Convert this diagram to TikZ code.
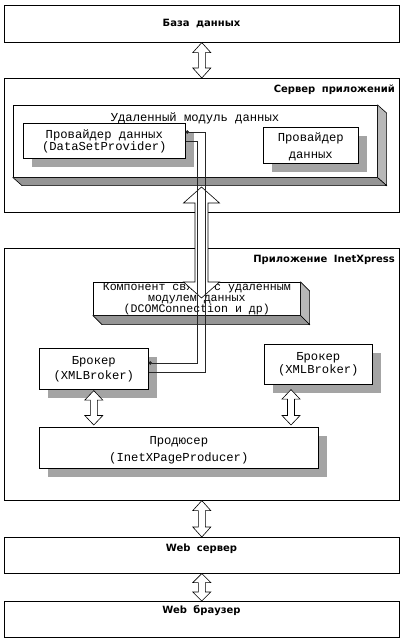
\documentclass[tikz,border=0pt]{standalone}
\usepackage{fontspec}
\newfontfamily\monof{Liberation Mono}
\newfontfamily\titlef{DejaVu Sans}
\usetikzlibrary{calc,shadows,arrows.meta}
\definecolor{shadowc}{HTML}{A4A4A4}
\definecolor{sidec}{HTML}{B8B8B8}
\definecolor{botc}{HTML}{959595}
\newcommand\hollowarrow[5]{%
  \draw[harrow] let \p1=#1, \p2=#2 in
  (\x1,\y1) -- (\x1+#3pt,\y1-#5pt) -- (\x1+#4pt,\y1-#5pt) -- (\x1+#4pt,\y2+#5pt)
  -- (\x1+#3pt,\y2+#5pt) -- (\x1,\y2) -- (\x1-#3pt,\y2+#5pt) -- (\x1-#4pt,\y2+#5pt)
  -- (\x1-#4pt,\y1-#5pt) -- (\x1-#3pt,\y1-#5pt) -- cycle;}
\newcommand\threed[3]{%
  \filldraw[fill=sidec, line width=0.6pt] (#1.north east) -- ++(#2,#3) -- ($(#1.south east)+(#2,#3)$) -- (#1.south east) -- cycle;
  \filldraw[fill=botc, line width=0.6pt] (#1.south west) -- ++(#2,#3) -- ($(#1.south east)+(#2,#3)$) -- (#1.south east) -- cycle;}
\begin{document}
\begin{tikzpicture}[x=1pt,y=-1pt,
  box/.style={draw=black, fill=white, anchor=north west, inner sep=0pt, line width=0.6pt},
  shad/.style={drop shadow={shadow xshift=9pt, shadow yshift=-9pt, fill=shadowc, opacity=1}},
  mono/.style={font=\monof\fontsize{12.2}{#1}\selectfont, align=center, text=black},
  title/.style={font=\titlef\bfseries\fontsize{10}{12}\selectfont, inner sep=0pt},
  wire/.style={draw=black!85, line width=0.6pt},
  harrow/.style={draw=black, fill=white, line width=0.6pt}]
\useasboundingbox (0,0) rectangle (404,638);

% database
\node[box, minimum width=395pt, minimum height=37pt] (db) at (4,5) {};
\node[title] (dbt) at (201.5,24) {База\hspace{3pt} данных};

% application server
\node[box, minimum width=395pt, minimum height=134pt] (srv) at (4,78) {};
\node[title, anchor=east] (srvt) at (395,90) {Сервер\hspace{3pt} приложений};
\hollowarrow{(db.south)}{(srv.north)}{9}{3.5}{10}

\node[box, minimum width=364pt, minimum height=72pt] (rdm) at (13,105) {};
\threed{rdm}{9}{8}
\node[mono=14, inner sep=0pt] (rdmt) at (195,118) {Удаленный модуль данных};
\node[box, shad, mono=12, minimum width=162pt, minimum height=35pt] (prov1) at (23,123) {\rule{0pt}{10pt}Провайдер данных\\(DataSetProvider)};
\node[box, shad, mono=17, minimum width=95pt, minimum height=36pt] (prov2) at (263,127) {\rule{0pt}{12pt}Провайдер\\данных};

% InetXpress application
\node[box, minimum width=395pt, minimum height=252pt] (app) at (4,248) {};
\node[title, anchor=east] (appt) at (395,260) {Приложение\hspace{3pt} InetXpress};

\node[box, font=\monof\fontsize{11.6}{11}\selectfont, align=center, minimum width=207pt, minimum height=33pt] (comp) at (93,282) {Компонент связи с удаленным\\модулем данных\\(DCOMConnection и др)};
\threed{comp}{9}{9}

\coordinate (bigtop) at (201.5,187);
\coordinate (bigbot) at (201.5,298);
\hollowarrow{(bigtop)}{(bigbot)}{18}{6.5}{16}

\node[box, shad, mono=15, minimum width=109pt, minimum height=41pt] (brk1) at (39,348) {Брокер\\(XMLBroker)};
\node[box, shad, mono=13, minimum width=108pt, minimum height=40pt] (brk2) at (264,344) {Брокер\\(XMLBroker)};
\node[box, shad, mono=17, minimum width=279pt, minimum height=41pt] (prod) at (39,427) {\rule{0pt}{13pt}Продюсер\\(InetXPageProducer)};

% wires through the big arrow
\draw[wire, {Circle[length=3.5pt]}-] ($(prov1.north east)+(0,9)$) -| (205,372) -- ($(brk1.north east)+(0,24)$);
\draw[wire, -{Circle[length=3.5pt]}] ($(prov1.north east)+(0,18)$) -| (197,363) -- ($(brk1.north east)+(0,15)$);

\hollowarrow{($(brk1.south)+(0,1)$)}{($(prod.north)+(0,-2)$)}{9}{3.5}{9.5}
\coordinate (rtop) at ($(brk2.south west)+(27,5)$);
\hollowarrow{(rtop)}{($(prod.north)+(0,-2)$)}{9}{3.5}{9.5}

% web server / browser
\node[box, minimum width=395pt, minimum height=36pt] (web) at (4,537) {};
\node[title] (webt) at (201.5,549) {Web\hspace{3pt} сервер};
\hollowarrow{(app.south)}{(web.north)}{9}{3.5}{10}

\node[box, minimum width=395pt, minimum height=36pt] (brw) at (4,601) {};
\node[title] (brwt) at (201.5,611) {Web\hspace{3pt} браузер};
\hollowarrow{(web.south)}{(brw.north)}{9}{3.5}{9}
\end{tikzpicture}
\end{document}
